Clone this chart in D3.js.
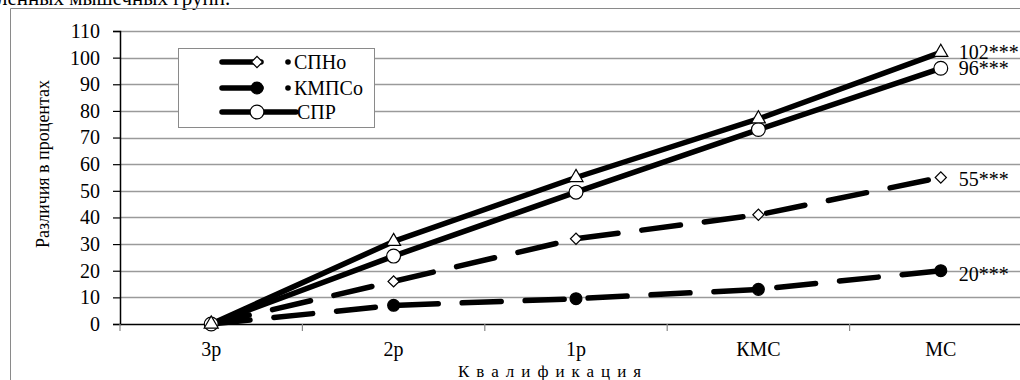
<!DOCTYPE html>
<html><head><meta charset="utf-8">
<script src="https://cdn.jsdelivr.net/npm/d3@7"></script>
<style>body{margin:0;background:#fff;overflow:hidden}svg{display:block}</style>
</head><body><svg id="c" width="1020" height="380" font-family="Liberation Serif"></svg>
<script>
const categories = ["3р","2р","1р","КМС","МС"];
const spno = [0,16,32,41,55];
const kmpso = [0,7,9.5,13,20];
const spr = [0,25.5,49.5,73,96];
const sprTri = [0,31,55,77,102];
const yTicks = [0,10,20,30,40,50,60,70,80,90,100,110];
const endLabels = ["102***","96***","55***","20***"];
const legendNames = ["СПНо","КМПСо","СПР"];

const svg = d3.select("#c");
const L=120, R=1032, T=31, B=324;
const x = d3.scaleBand().domain(categories).range([L,R]);
const y = d3.scaleLinear().domain([0,110]).range([B,T]);
const cx = c => x(c)+x.bandwidth()/2;
const FF = "Liberation Serif";
const FS = 20;

svg.append("text").attr("x",-3).attr("y",5).attr("font-size",21).attr("font-family",FF).text("лённых мышечных групп.");
svg.append("path").attr("d","M10.5,380 V8.5 H1020").attr("fill","none").attr("stroke","#8a8a8a").attr("stroke-width",1);

svg.append("g").selectAll("line").data(yTicks.filter(d=>d>0)).join("line")
 .attr("x1",L).attr("x2",R).attr("y1",d=>Math.round(y(d))+0.5).attr("y2",d=>Math.round(y(d))+0.5)
 .attr("stroke","#9a9a9a").attr("stroke-width",1.3);

const ya = svg.append("g").attr("transform",`translate(${L},0)`)
 .call(d3.axisLeft(y).tickValues(yTicks).tickSize(7).tickPadding(13));
ya.attr("font-family",FF).attr("font-size",FS);
ya.select(".domain").attr("stroke","#000").attr("stroke-width",1.5);
ya.selectAll(".tick line").attr("stroke","#000").attr("stroke-width",1.2);
ya.selectAll("text").attr("font-family",FF).attr("font-size",FS).attr("fill","#000");

const xa = svg.append("g").attr("transform",`translate(0,${B})`)
 .call(d3.axisBottom(x).tickSize(0).tickPadding(18));
xa.attr("font-family",FF).attr("font-size",FS);
xa.select(".domain").attr("stroke","#000").attr("stroke-width",1.5).attr("d",`M${L},0.5H${R}`);
xa.selectAll("text").attr("font-family",FF).attr("font-size",FS).attr("fill","#000");
svg.append("g").selectAll("line").data(d3.range(categories.length+1)).join("line")
 .attr("x1",i=>L+i*x.bandwidth()).attr("x2",i=>L+i*x.bandwidth())
 .attr("y1",B).attr("y2",B+7).attr("stroke","#888").attr("stroke-width",1.2);

svg.append("text").attr("x",458).attr("y",377).attr("font-size",17)
 .attr("font-family",FF).attr("letter-spacing","7px").text("Квалификация");
svg.append("text").attr("transform","translate(49,164) rotate(-90)").attr("text-anchor","middle")
 .attr("font-family",FF).attr("font-size",18).text("Различия в процентах");

const line = d3.line().x((d,i)=>cx(categories[i])).y(d=>y(d));
const series = [
 {v:kmpso, dash:"39 24"},
 {v:spno, dash:"39 24"},
 {v:spr, dash:null},
 {v:sprTri, dash:null}
];
series.forEach(s=>{
 svg.append("path").attr("d",line(s.v)).attr("fill","none").attr("stroke","#000")
  .attr("stroke-width",5.5).attr("stroke-linecap","round").attr("stroke-linejoin","round")
  .attr("stroke-dasharray",s.dash);
});

const sym = (type,size)=>d3.symbol().type(type).size(size);
function markerAttr(sel,kind){
 if(kind==="diamond") return sel.attr("d",sym(d3.symbolSquare,62)).attr("fill","#fff");
 if(kind==="dot") return sel.attr("d",sym(d3.symbolCircle,110)).attr("fill","#000");
 if(kind==="circle") return sel.attr("d",sym(d3.symbolCircle,150)).attr("fill","#fff");
 return sel.attr("d",sym(d3.symbolTriangle,85)).attr("fill","#fff");
}
function drawMarkers(vals,kind){
 const rot = kind==="diamond" ? " rotate(45)" : "";
 markerAttr(svg.append("g").selectAll("path").data(vals).join("path")
  .attr("transform",(d,i)=>`translate(${cx(categories[i])},${y(d)})${rot}`)
  .attr("stroke","#000").attr("stroke-width",1.2), kind);
}
drawMarkers(kmpso,"dot");
drawMarkers(spno,"diamond");
drawMarkers(spr,"circle");
drawMarkers(sprTri,"tri");

const endVals=[sprTri[4],spr[4],spno[4],kmpso[4]];
const endDy=[0,0,1,3];
svg.append("g").selectAll("text").data(endLabels).join("text")
 .attr("x",cx("МС")+18).attr("y",(d,i)=>y(endVals[i])+endDy[i]).attr("dy","0.35em")
 .attr("font-family",FF).attr("font-size",FS).text(d=>d);

const lg = svg.append("g");
lg.append("rect").attr("x",178.5).attr("y",48.5).attr("width",196).attr("height",79)
 .attr("fill","#fff").attr("stroke","#8a8a8a").attr("stroke-width",1);
const rowsY=[62,88,112];
const lgKind=["diamond","dot","circle"];
legendNames.forEach((n,i)=>{
 const yy=rowsY[i];
 const dashed = i<2;
 lg.append("line").attr("x1",222).attr("x2",dashed?261:296).attr("y1",yy).attr("y2",yy)
  .attr("stroke","#000").attr("stroke-width",5.5).attr("stroke-linecap","round");
 if(dashed) lg.append("circle").attr("cx",288).attr("cy",yy).attr("r",2.8).attr("fill","#000");
 markerAttr(lg.append("path").attr("transform",`translate(257,${yy})`+(lgKind[i]==="diamond"?" rotate(45)":""))
  .attr("stroke","#000").attr("stroke-width",1.2), lgKind[i]);
 lg.append("text").attr("x",dashed?294:297).attr("y",yy).attr("dy","0.35em")
  .attr("font-family",FF).attr("font-size",FS).text(n);
});
</script></body></html>
